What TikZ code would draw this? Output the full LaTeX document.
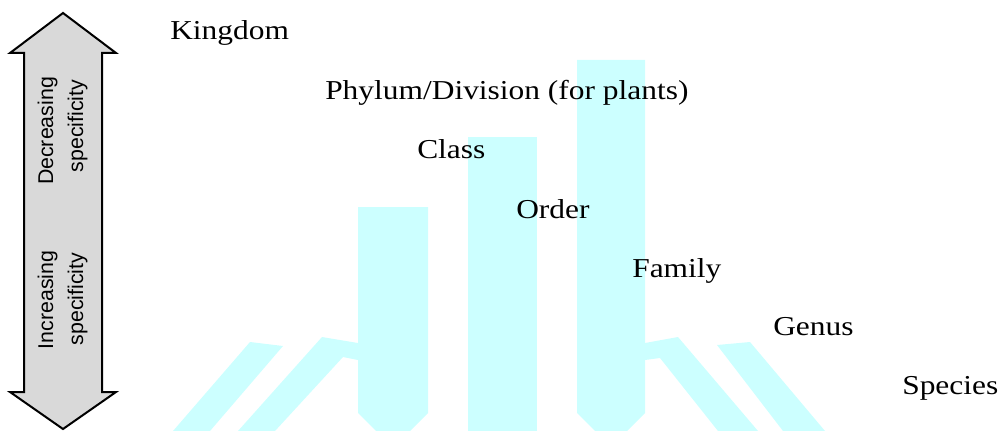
\documentclass[tikz,border=0pt]{standalone}
\usepackage{fontspec}
\usepackage{tikz}
\usetikzlibrary{positioning}
\newfontfamily\rankfont[FakeStretch=1.15]{Liberation Serif}
\newfontfamily\arrowfont{Liberation Sans}
\definecolor{logocyan}{RGB}{204,255,255}
\definecolor{arrowgray}{RGB}{217,217,217}

\begin{document}
\begin{tikzpicture}
    [line cap=round,line join=round,x=0.75pt,y=0.75pt,
     rank/.style={anchor=base west,inner sep=0pt,font=\rankfont\fontsize{20.5}{24}\selectfont},
     spec/.style={anchor=base,inner sep=0pt,rotate=90,font=\arrowfont\fontsize{16}{19}\selectfont},
     logo/.style={fill=logocyan,draw=none}]
\useasboundingbox (0,0) rectangle (998,-431);
%background logo
 \fill[logo] (358,-207) -- (428,-207) -- (428,-413) -- (410,-431) -- (376,-431) -- (358,-413) -- cycle;
 \fill[logo] (468,-137) -- (537,-137) -- (537,-431) -- (468,-431) -- cycle;
 \fill[logo] (577,-60) -- (645,-60) -- (645,-413) -- (627,-431) -- (595,-431) -- (577,-413) -- cycle;
 \fill[logo] (173,-431) -- (250,-342) -- (283,-346) -- (210,-431) -- cycle;
 \fill[logo] (238,-431) -- (322,-337) -- (358,-343) -- (358,-360) -- (343,-357) -- (275,-431) -- cycle;
 \fill[logo] (645,-343) -- (678,-337) -- (758,-431) -- (718,-431) -- (660,-358) -- (645,-360) -- cycle;
 \fill[logo] (717,-345) -- (750,-342) -- (825,-431) -- (783,-431) -- cycle;

%double arrow on the left
 \draw[line width=1.5pt,fill=arrowgray,line cap=butt,line join=miter]
   (63,-13) -- (116,-53) -- (102,-53) -- (102,-392) -- (116,-392) -- (63,-429)
   -- (10,-392) -- (24,-392) -- (24,-53) -- (10,-53) -- cycle;
  \node[spec] (decr) at (53,-131) {Decreasing};
  \node[spec] (decrspec) at (83,-126) {specificity};
  \node[spec] (incr) at (53,-300) {Increasing};
  \node[spec] (incrspec) at (83,-299) {specificity};

%the ranks
   \node[rank] (kingdom) at (170,-40) {Kingdom};
   \node[rank] (phylum) at (325,-100) {Phylum/Division (for plants)};
   \node[rank] (class) at (417,-158) {Class};
   \node[rank] (order) at (516,-218) {Order};
   \node[rank] (family) at (632,-277) {Family};
   \node[rank] (genus) at (773,-335) {Genus};
   \node[rank] (species) at (902,-394) {Species};

 \end{tikzpicture}
\end{document}
